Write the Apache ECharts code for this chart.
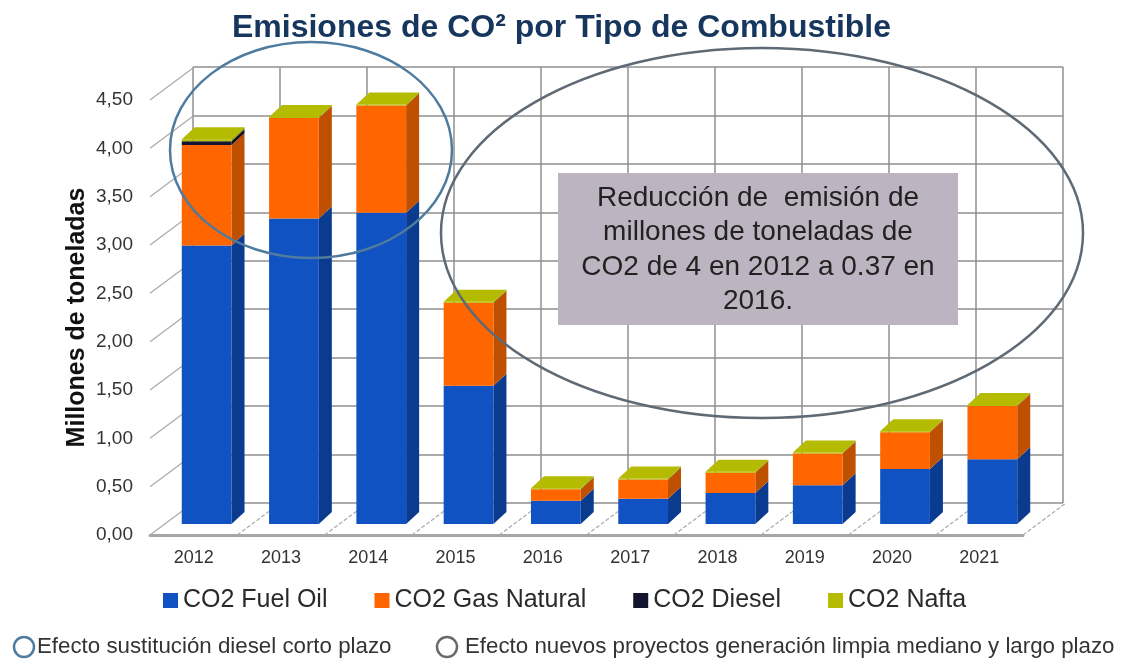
<!DOCTYPE html>
<html>
<head>
<meta charset="utf-8">
<title>Emisiones de CO2 por Tipo de Combustible</title>
<script src="https://cdn.jsdelivr.net/npm/echarts@6/dist/echarts.min.js"></script>
<style>
  html, body { margin: 0; padding: 0; background: #fff; }
  #chart { width: 1123px; height: 664px; }
</style>
</head>
<body>
<div id="chart"></div>
<script>
const categories = ['2012', '2013', '2014', '2015', '2016', '2017', '2018', '2019', '2020', '2021']
const fuelOil = [2.88, 3.16, 3.22, 1.43, 0.24, 0.26, 0.32, 0.40, 0.57, 0.67]
const gasNatural = [1.04, 1.04, 1.11, 0.86, 0.12, 0.20, 0.21, 0.33, 0.38, 0.55]
const diesel = [0.04, 0, 0, 0, 0, 0, 0, 0, 0, 0]
const nafta = [0.02, 0.01, 0.01, 0.01, 0.01, 0.01, 0.01, 0.01, 0.01, 0.01]
const yTicks = [0, 0.5, 1, 1.5, 2, 2.5, 3, 3.5, 4, 4.5]
const noteLines = [
  'Reducción de  emisión de',
  'millones de toneladas de',
  'CO2 de 4 en 2012 a 0.37 en',
  '2016.'
]

const FONT = '"Liberation Sans", Arial, sans-serif'
// the picture is a fake 3d excel chart: back wall sits up and to the right of the axis
const WALL_DX = 43
const WALL_DY = -32
const BAR_DX = 13 // bar front against band centre
const BAR_DY = -11 // bar front against axis line
const DEPTH_DX = 13
const DEPTH_DY = -12

function stackedBar(name, values, below, front, side, top) {
  const data = values.map((v, i) => {
    const low = below.reduce((sum, arr) => sum + arr[i], 0)
    return [i, low, low + v]
  })
  return {
    name: name,
    type: 'custom',
    xAxisIndex: 0,
    yAxisIndex: 0,
    z: 5,
    itemStyle: { color: front },
    encode: { x: 0, y: [1, 2] },
    data: data,
    renderItem: function(params, api) {
      if (api.value(2) === api.value(1)) {
        return
      }
      const w = api.size([1, 0])[0] * 0.57
      const low = api.coord([api.value(0), api.value(1)])
      const high = api.coord([api.value(0), api.value(2)])
      const x1 = low[0] + BAR_DX - w / 2
      const x2 = x1 + w
      const y1 = low[1] + BAR_DY
      const y2 = high[1] + BAR_DY
      const children = [
        {
          type: 'polygon',
          shape: { points: [[x2, y1], [x2 + DEPTH_DX, y1 + DEPTH_DY], [x2 + DEPTH_DX, y2 + DEPTH_DY], [x2, y2]] },
          style: { fill: side }
        },
        {
          type: 'rect',
          shape: { x: x1, y: y2, width: w, height: y1 - y2 },
          style: { fill: front }
        }
      ]
      if (top) {
        children.push({
          type: 'polygon',
          shape: { points: [[x1, y2], [x2, y2], [x2 + DEPTH_DX, y2 + DEPTH_DY], [x1 + DEPTH_DX, y2 + DEPTH_DY]] },
          style: { fill: top }
        })
      }
      return { type: 'group', children: children }
    }
  }
}

// slanted lines joining the axes to the back wall
const obliqueStyle = { stroke: '#a9a9a9', lineWidth: 1.2 }

const wallLeftSeries = {
  type: 'custom',
  silent: true,
  z: 2,
  data: yTicks.map(v => [0, v]),
  encode: { x: 0, y: 1 },
  renderItem: function(params, api) {
    const p = api.coord([api.value(0), api.value(1)])
    const x = p[0] - api.size([1, 0])[0] / 2
    return {
      type: 'line',
      shape: { x1: x, y1: p[1], x2: x + WALL_DX, y2: p[1] + WALL_DY },
      style: obliqueStyle
    }
  }
}

const floorSeries = {
  type: 'custom',
  silent: true,
  z: 2,
  data: categories.map((c, i) => [i, 0]),
  encode: { x: 0, y: 1 },
  renderItem: function(params, api) {
    const p = api.coord([api.value(0), 0])
    const band = api.size([1, 0])[0]
    const x = p[0] + band / 2
    return {
      type: 'line',
      shape: { x1: x, y1: p[1], x2: x + WALL_DX, y2: p[1] + WALL_DY },
      style: { stroke: '#a9a9a9', lineWidth: 1.2, lineDash: [4, 2] }
    }
  }
}

const chart = echarts.init(document.getElementById('chart'))

chart.setOption({
  animation: false,
  backgroundColor: '#fff',
  title: {
    text: 'Emisiones de CO² por Tipo de Combustible',
    left: 'center',
    top: 7,
    textStyle: { color: '#17365d', fontFamily: FONT, fontWeight: 'bold', fontSize: 32 }
  },
  legend: {
    left: 158,
    top: 583,
    itemWidth: 15,
    itemHeight: 15,
    itemGap: 47,
    icon: 'rect',
    data: ['CO2 Fuel Oil', 'CO2 Gas Natural', 'CO2 Diesel', 'CO2 Nafta'],
    textStyle: { color: '#2a2a2a', fontFamily: FONT, fontSize: 25 }
  },
  grid: [
    { left: 150, right: 100, top: 100, bottom: 129 }, // axis plane
    { left: 193, right: 60, top: 67, bottom: 161 } // back wall
  ],
  xAxis: [
    {
      type: 'category',
      data: categories,
      gridIndex: 0,
      axisTick: { show: false },
      axisLine: { lineStyle: { color: '#a6a6a6', width: 3 } },
      axisLabel: { color: '#333', fontFamily: FONT, fontSize: 18, margin: 14, interval: 0 }
    },
    {
      type: 'category',
      data: categories,
      gridIndex: 1,
      axisTick: { show: false },
      axisLine: { show: false },
      axisLabel: { show: false },
      splitLine: { show: true, interval: 0, lineStyle: { color: '#8f8f8f', width: 1.5 } }
    }
  ],
  yAxis: [
    {
      type: 'value',
      gridIndex: 0,
      min: 0,
      max: 4.5,
      interval: 0.5,
      name: 'Millones de toneladas',
      nameLocation: 'middle',
      nameGap: 60,
      nameMoveOverlap: false,
      nameTextStyle: { color: '#111', fontFamily: FONT, fontWeight: 'bold', fontSize: 25 },
      axisLine: { show: false },
      axisTick: { show: false },
      splitLine: { show: false },
      axisLabel: {
        color: '#333',
        fontFamily: FONT,
        fontSize: 19,
        margin: 17,
        formatter: function(v) {
          return v.toFixed(2).replace('.', ',')
        }
      }
    },
    {
      type: 'value',
      gridIndex: 1,
      min: 0,
      max: 4.5,
      interval: 0.5,
      axisLine: { show: false },
      axisTick: { show: false },
      axisLabel: { show: false },
      splitLine: { show: true, lineStyle: { color: '#8f8f8f', width: 1.5 } }
    }
  ],
  series: [
    wallLeftSeries,
    floorSeries,
    stackedBar('CO2 Fuel Oil', fuelOil, [], '#1152c2', '#0b3b8f'),
    stackedBar('CO2 Gas Natural', gasNatural, [fuelOil], '#ff6600', '#bf5000'),
    stackedBar('CO2 Diesel', diesel, [fuelOil, gasNatural], '#14142e', '#0c0c20'),
    stackedBar('CO2 Nafta', nafta, [fuelOil, gasNatural, diesel], '#b4bb00', '#8a8f00', '#b4bb00')
  ],
  graphic: [
    {
      type: 'rect',
      z: 90,
      shape: { x: 558, y: 173, width: 400, height: 152 },
      style: { fill: '#bcb4c0' }
    },
    {
      type: 'text',
      z: 91,
      x: 758,
      y: 181,
      style: {
        text: noteLines.join('\n'),
        align: 'center',
        fill: '#222',
        font: '28px ' + FONT,
        lineHeight: 34.5
      }
    },
    {
      type: 'ellipse',
      z: 95,
      shape: { cx: 311, cy: 150, rx: 141, ry: 108 },
      style: { fill: 'none', stroke: '#4f7b9f', lineWidth: 2.5 }
    },
    {
      type: 'ellipse',
      z: 95,
      shape: { cx: 762, cy: 233, rx: 321, ry: 185 },
      style: { fill: 'none', stroke: '#5f6a75', lineWidth: 2.5 }
    },
    {
      type: 'circle',
      z: 95,
      shape: { cx: 24, cy: 647, r: 10 },
      style: { fill: '#fff', stroke: '#4f7b9f', lineWidth: 2.5 }
    },
    {
      type: 'text',
      z: 95,
      x: 37,
      y: 636,
      style: { text: 'Efecto sustitución diesel corto plazo', fill: '#333', font: '22.3px ' + FONT }
    },
    {
      type: 'circle',
      z: 95,
      shape: { cx: 447, cy: 647, r: 10 },
      style: { fill: '#fff', stroke: '#6b6b6b', lineWidth: 2.5 }
    },
    {
      type: 'text',
      z: 95,
      x: 465,
      y: 636,
      style: { text: 'Efecto nuevos proyectos generación limpia mediano y largo plazo', fill: '#333', font: '22.3px ' + FONT }
    }
  ]
})
</script>
</body>
</html>
